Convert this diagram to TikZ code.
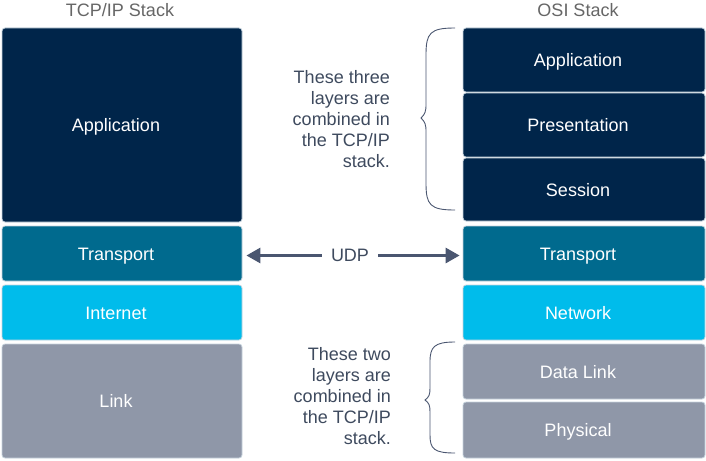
\documentclass[tikz,border=0pt]{standalone}
\usepackage{fontspec}
\setmainfont{Liberation Sans}
\usetikzlibrary{arrows.meta}
\definecolor{navy}{HTML}{00254A}
\definecolor{teal}{HTML}{006A8E}
\definecolor{cyanl}{HTML}{00BCEB}
\definecolor{greyl}{HTML}{8F97A8}
\definecolor{edgec}{HTML}{C5D2DC}
\definecolor{titlec}{HTML}{666666}
\definecolor{notec}{HTML}{3E4A5E}
\definecolor{arrowc}{HTML}{4A5670}
\newcommand{\lbltext}[1]{\hspace*{-12pt}#1}
\tikzset{
  layer/.style={draw=edgec, line width=0.8pt, rounded corners=3pt, inner sep=0pt,
    text=white, font=\fontsize{18}{21}\selectfont, anchor=center,
    text height=13pt, text depth=0pt},
  titletext/.style={text=titlec, font=\fontsize{18}{21}\selectfont, inner sep=0pt},
  notetext/.style={text=notec, font=\fontsize{18}{21}\selectfont, align=right, inner sep=0pt, anchor=north east},
  bracec/.style={draw=arrowc, line width=0.9pt},
  udparrow/.style={draw=arrowc, line width=3pt, -{Triangle[length=14pt,width=15pt]}},
}
\begin{document}
\begin{tikzpicture}[x=1pt,y=-1pt]
\useasboundingbox (0,0) rectangle (706,460);
% titles
\node[titletext] (t1) at (120,10) {TCP/IP Stack};
\node[titletext] (t2) at (578,10) {OSI Stack};
% left stack
\node[layer, fill=navy, minimum width=240pt, minimum height=194pt] (lapp) at (122,125) {\lbltext{Application}};
\node[layer, fill=teal, minimum width=240pt, minimum height=55pt] (ltr) at (122,253.5) {\lbltext{Transport}};
\node[layer, fill=cyanl, minimum width=240pt, minimum height=55pt] (lint) at (122,312.5) {\lbltext{Internet}};
\node[layer, fill=greyl, minimum width=240pt, minimum height=114pt] (llink) at (122,401) {\lbltext{Link}};
% right stack
\node[layer, fill=navy, minimum width=242pt, minimum height=64pt] (rapp) at (584,60) {\lbltext{Application}};
\node[layer, fill=navy, minimum width=242pt, minimum height=64pt] (rpres) at (584,125) {\lbltext{Presentation}};
\node[layer, fill=navy, minimum width=242pt, minimum height=63pt] (rses) at (584,189.5) {\lbltext{Session}};
\node[layer, fill=teal, minimum width=242pt, minimum height=55pt] (rtr) at (584,253.5) {\lbltext{Transport}};
\node[layer, fill=cyanl, minimum width=242pt, minimum height=55pt] (rnet) at (584,312.5) {\lbltext{Network}};
\node[layer, fill=greyl, minimum width=242pt, minimum height=55pt] (rdl) at (584,371.5) {\lbltext{Data Link}};
\node[layer, fill=greyl, minimum width=242pt, minimum height=56pt] (rphy) at (584,430) {\lbltext{Physical}};
% UDP
\node[titletext, text=notec, inner xsep=9pt] (udp) at (350,255.5) {UDP};
\draw[udparrow, shorten >=4pt] (udp.west) -- (ltr.east |- udp.west);
\draw[udparrow, shorten >=3pt] (udp.east) -- (rtr.west |- udp.east);
% notes
\node[notetext] (n1) at (390,70) {These three\\layers are\\combined in\\the TCP/IP\\stack.};
\node[notetext] (n2) at (391,347) {These two\\layers are\\combined in\\the TCP/IP\\stack.};
% braces
\draw[bracec] (455,28) .. controls (430,28) and (426,33) .. (426,55) -- (426,104)
  .. controls (426,112) and (425,114) .. (421,118)
  .. controls (425,122) and (426,124) .. (426,132) -- (426,183)
  .. controls (426,205) and (430,210) .. (455,210);
\draw[bracec] (455,342) .. controls (434,342) and (430,347) .. (430,362) -- (430,388)
  .. controls (430,395) and (429,397) .. (425,400)
  .. controls (429,403) and (430,405) .. (430,412) -- (430,435)
  .. controls (430,449) and (434,453) .. (455,453);
\end{tikzpicture}
\end{document}
